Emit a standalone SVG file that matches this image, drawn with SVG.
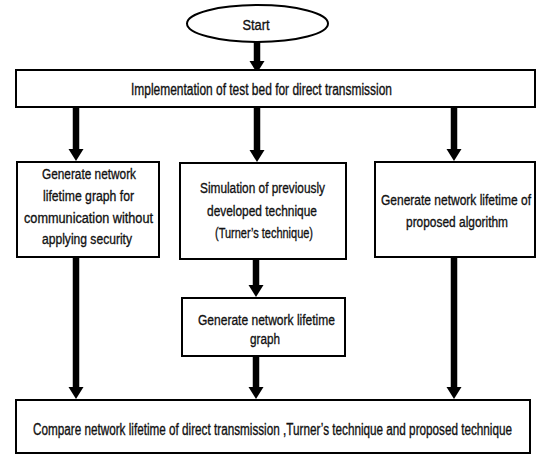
<svg xmlns="http://www.w3.org/2000/svg" width="536" height="454" viewBox="0 0 536 454">
  <style>
    .box { fill: #ffffff; stroke: #000000; stroke-width: 2; }
    .lbl { font-family: "Liberation Sans", Arial, sans-serif; font-size: 15.5px; fill: #111111; stroke: #111111; stroke-width: 0.35; }
    .big { font-size: 16px; }
    .arrow { stroke: #000000; stroke-width: 6.5; fill: none; marker-end: url(#head); }
  </style>
  <defs>
    <marker id="head" markerUnits="userSpaceOnUse" markerWidth="12" markerHeight="16" refX="1" refY="8" orient="auto">
      <path d="M0,0.5 L12,8 L0,15.5 z" fill="#000000"/>
    </marker>
  </defs>
  <rect width="536" height="454" fill="#ffffff"/>

  <g id="connectors">
    <line class="arrow" x1="257" y1="42" x2="257" y2="62"/>
    <line class="arrow" x1="76" y1="107" x2="76" y2="150"/>
    <line class="arrow" x1="257" y1="107" x2="257" y2="151"/>
    <line class="arrow" x1="454" y1="107" x2="454" y2="150"/>
    <line class="arrow" x1="256" y1="259" x2="256" y2="286"/>
    <line class="arrow" x1="76" y1="257" x2="76" y2="388"/>
    <line class="arrow" x1="256" y1="356" x2="256" y2="388"/>
    <line class="arrow" x1="454" y1="257" x2="454" y2="388"/>
  </g>

  <g id="start">
    <ellipse class="box" cx="257.5" cy="23.5" rx="70.5" ry="18.5"/>
    <text class="lbl" x="256" y="30" text-anchor="middle" textLength="27" lengthAdjust="spacingAndGlyphs">Start</text>
  </g>

  <g id="implementation">
    <rect class="box" x="16" y="70" width="519" height="37"/>
    <text class="lbl big" x="131" y="95" textLength="261" lengthAdjust="spacingAndGlyphs">Implementation of test bed for direct transmission</text>
  </g>

  <g id="left-box">
    <rect class="box" x="17" y="162" width="142" height="95"/>
    <text class="lbl" x="42" y="179" textLength="94" lengthAdjust="spacingAndGlyphs">Generate network</text>
    <text class="lbl" x="43" y="201" textLength="91" lengthAdjust="spacingAndGlyphs">lifetime graph for</text>
    <text class="lbl" x="24" y="223" textLength="129" lengthAdjust="spacingAndGlyphs">communication  without</text>
    <text class="lbl" x="42" y="244" textLength="90" lengthAdjust="spacingAndGlyphs">applying security</text>
  </g>

  <g id="middle-box">
    <rect class="box" x="180" y="163" width="166" height="96"/>
    <text class="lbl" x="200" y="193" textLength="125" lengthAdjust="spacingAndGlyphs">Simulation of previously</text>
    <text class="lbl" x="207" y="216" textLength="110" lengthAdjust="spacingAndGlyphs">developed technique</text>
    <text class="lbl" x="215" y="238" textLength="98" lengthAdjust="spacingAndGlyphs">(Turner’s technique)</text>
  </g>

  <g id="right-box">
    <rect class="box" x="375" y="162" width="160" height="95"/>
    <text class="lbl" transform="translate(381,205) scale(0.777,1)" textLength="193" lengthAdjust="spacingAndGlyphs">Generate network lifetime of</text>
    <text class="lbl" transform="translate(406,227) scale(0.77,1)" textLength="132.5" lengthAdjust="spacingAndGlyphs">proposed algorithm</text>
  </g>

  <g id="lower-middle-box">
    <rect class="box" x="182" y="298" width="163" height="58"/>
    <text class="lbl" x="198" y="325" textLength="137" lengthAdjust="spacingAndGlyphs">Generate network lifetime</text>
    <text class="lbl" x="250" y="344" textLength="30" lengthAdjust="spacingAndGlyphs">graph</text>
  </g>

  <g id="compare">
    <rect class="box" x="16" y="400" width="514" height="53"/>
    <text class="lbl big" transform="translate(33,435) scale(0.732,1)" textLength="654.4" lengthAdjust="spacingAndGlyphs">Compare network lifetime of direct transmission ,Turner’s technique and proposed technique</text>
  </g>
</svg>
